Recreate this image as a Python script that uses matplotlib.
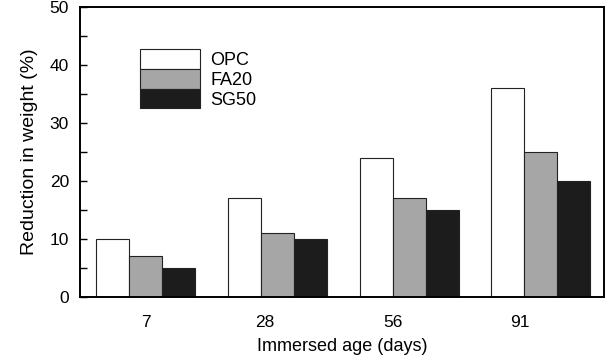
import matplotlib
matplotlib.use("Agg")
import matplotlib.pyplot as plt
import numpy as np
from matplotlib.ticker import MultipleLocator

plt.rcParams['font.family'] = ['Liberation Sans', 'DejaVu Sans']

categories = ['7', '28', '56', '91']
series_names = ['OPC', 'FA20', 'SG50']
opc = [10, 17, 24, 36]
fa20 = [7, 11, 17, 25]
sg50 = [5, 10, 15, 20]

fig = plt.figure(figsize=(6.08, 3.6), dpi=100)
ax = fig.add_axes([80/608, 1-297/360, (604-80)/608, (297-7)/360])

x = np.arange(len(categories))
w = 0.25
colors = ['white', '#a6a6a6', '#1c1c1c']
bars = []
for i, (vals, c) in enumerate(zip([opc, fa20, sg50], colors)):
    b = ax.bar(x + (i-1)*w, vals, w, color=c, edgecolor='#222222', linewidth=0.8,
               label=series_names[i])
    bars.append(b)

ax.set_xlim(-0.50, 3.48)
ax.set_ylim(0, 50)
ax.yaxis.set_major_locator(MultipleLocator(10))
ax.yaxis.set_minor_locator(MultipleLocator(5))
ax.tick_params(axis='y', which='both', direction='in', length=5, width=1,
               labelsize=12.5, pad=8)
ax.set_xticks([0, 0.9, 1.88, 2.84])
ax.set_xticklabels(categories, fontsize=12.5)
ax.tick_params(axis='x', length=0, pad=13)
for s in ax.spines.values():
    s.set_linewidth(1.4)

ax.set_xlabel('Immersed age (days)', fontsize=13, labelpad=6)
ax.set_ylabel('Reduction in weight (%)', fontsize=14, labelpad=8)

leg = ax.legend(handles=bars, labels=series_names, loc='upper left',
                bbox_to_anchor=(140/608, 1-49/360), bbox_transform=fig.transFigure,
                frameon=False, fontsize=13, handlelength=3.3, handleheight=1.3,
                labelspacing=0.0, handletextpad=0.6, borderpad=0, borderaxespad=0)

fig.savefig('out.png', dpi=100)
